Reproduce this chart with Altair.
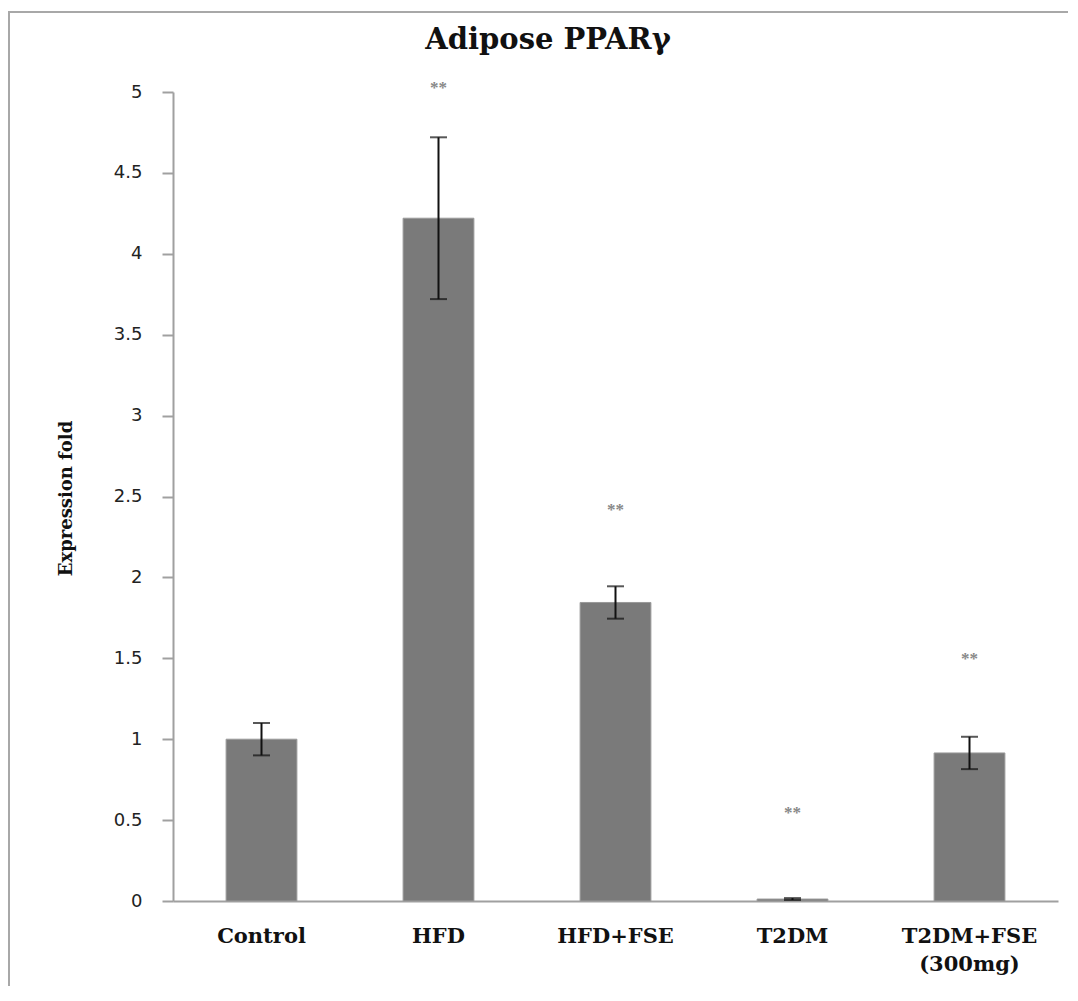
import altair as alt
import pandas as pd

title_text = "Adipose PPARγ"
groups = ["Control", "HFD", "HFD+FSE", "T2DM", "T2DM+FSE (300mg)"]
means = [1.0, 4.22, 1.845, 0.012, 0.915]
errs = [0.1, 0.5, 0.1, 0.006, 0.1]
star_text = ["", "**", "**", "**", "**"]
star_y = [None, 5.05, 2.44, 0.57, 1.52]

df = pd.DataFrame({
    "group": groups,
    "mean": means,
    "low": [m - e for m, e in zip(means, errs)],
    "high": [m + e for m, e in zip(means, errs)],
})
stars = pd.DataFrame({"group": groups, "y": star_y, "t": star_text}).dropna()

W, H = 885, 809
xenc = alt.X("group:N", sort=groups, title=None,
             scale=alt.Scale(paddingInner=0.6, paddingOuter=0.3),
             axis=alt.Axis(labelAngle=0, ticks=False, labelPadding=24,
                           labelFont="DejaVu Serif", labelFontWeight="bold",
                           labelFontSize=21, labelColor="#111",
                           labelLineHeight=28, labelBaseline="top",
                           labelExpr="split(datum.label, ' ')",
                           domainColor="#a0a0a0", domainWidth=2))
yscale = alt.Scale(domain=[0, 5], nice=False, zero=True)

bars = alt.Chart(df).mark_bar(color="#7a7a7a", stroke="#9a9a9a", strokeWidth=1).encode(
    x=xenc,
    y=alt.Y("mean:Q", scale=yscale, title="Expression fold",
            axis=alt.Axis(values=[0, 0.5, 1, 1.5, 2, 2.5, 3, 3.5, 4, 4.5, 5],
                          format="~g", grid=False, tickSize=11,
                          tickColor="#a0a0a0", tickWidth=2,
                          domainColor="#a0a0a0", domainWidth=2,
                          labelFont="DejaVu Sans", labelFontSize=18,
                          labelColor="#222", labelPadding=20,
                          titleFont="DejaVu Serif", titleFontWeight="bold",
                          titleFontSize=18, titleColor="#111",
                          titleAngle=270, titleAlign="center",
                          titleBaseline="middle",
                          titleX=-107, titleY=406)),
)

rules = alt.Chart(df).mark_rule(color="#111", strokeWidth=2).encode(
    x=alt.X("group:N", sort=groups), y=alt.Y("low:Q", scale=yscale), y2="high:Q"
)
cap_hi = alt.Chart(df).mark_tick(color="#111", thickness=2, size=17, orient="horizontal").encode(
    x=alt.X("group:N", sort=groups), y=alt.Y("high:Q", scale=yscale)
)
cap_lo = alt.Chart(df).mark_tick(color="#111", thickness=2, size=17, orient="horizontal").encode(
    x=alt.X("group:N", sort=groups), y=alt.Y("low:Q", scale=yscale)
)
star_marks = alt.Chart(stars).mark_text(color="#888", fontSize=17, font="Liberation Serif",
                                        fontWeight="bold", baseline="middle", dy=4).encode(
    x=alt.X("group:N", sort=groups), y=alt.Y("y:Q", scale=yscale), text="t:N"
)
frame = alt.Chart(alt.Data(values=[{"a": 1}])).mark_rect(
    filled=False, stroke="#a8a8a8", strokeWidth=2
).encode(
    x=alt.value(-164), x2=alt.value(W + 300), y=alt.value(-80), y2=alt.value(H + 300)
)
title = alt.Chart(alt.Data(values=[{"t": title_text}])).mark_text(
    font="DejaVu Serif", fontWeight="bold", fontSize=29, color="#111",
    align="center", baseline="middle"
).encode(x=alt.value(375), y=alt.value(-52), text="t:N")

chart = alt.layer(frame, bars, rules, cap_hi, cap_lo, star_marks, title).properties(
    width=W, height=H,
    background="white",
    autosize=alt.AutoSizeParams(type="none"),
    padding={"left": 165, "top": 84, "right": 10, "bottom": 85},
).configure_view(stroke=None)

chart.save("out.html", embed_options={"renderer": "svg", "actions": False})
